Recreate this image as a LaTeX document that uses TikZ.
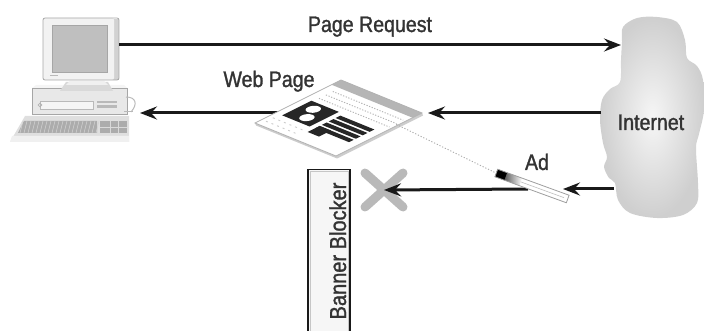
\documentclass[tikz,border=0pt]{standalone}
\usepackage{fontspec}
\setmainfont[FakeStretch=0.87,FakeBold=1.3]{Liberation Sans}
\usetikzlibrary{arrows.meta,calc}

\begin{document}
\begin{tikzpicture}[x=1pt,y=-1pt,
  lbl/.style={font=\fontsize{22.5}{26}\selectfont, text=black!80, inner sep=0pt},
  flow/.style={line width=3pt, draw=black!90,
    -{Stealth[length=17pt,width=13pt,inset=6pt]}},
  partline/.style={draw=gray!70, line width=0.8pt},
]
\useasboundingbox (0,0) rectangle (704,331);

% ---------- computer ----------
\begin{scope}
  % keyboard
  \fill[gray!25] (10,142) -- (25,116) -- (129,116) -- (129,142) -- cycle;
  \fill[gray!12] (10,142) -- (12,136) -- (129,136) -- (129,142) -- cycle;
  \fill[gray!65] (18,133) -- (24,121) -- (97,121) -- (97,133) -- cycle;
  \foreach \k in {20,24,...,96} \draw[gray!35, line width=0.6pt] (\k,133) -- (\k+3,121);
  \fill[gray!65] (100,121) rectangle (127,133);
  \draw[gray!30, line width=0.7pt] (100,127) -- (127,127) (110,121) -- (110,133) (118,121) -- (118,133);
  % system unit
  \fill[gray!18] (32,88) rectangle (127,114);
  \fill[gray!8] (36,85) -- (124,85) -- (127,88) -- (32,88) -- cycle;
  \draw[partline] (32,88) rectangle (127,114);
  \fill[gray!8] (40,101) rectangle (93,109);
  \draw[gray!55, line width=0.7pt] (40,101) rectangle (93,109);
  \draw[gray!60, line width=0.7pt] (40,105) circle [radius=1.8];
  \fill[gray!55] (97,101) rectangle (117,103.5);
  \fill[gray!55] (97,105.5) rectangle (117,108);
  \draw[gray!55, line width=1pt] (126,97) .. controls (136,97) and (138,104) .. (131,112);
  \draw[gray!55, line width=1pt] (124,112) -- (133,112);
  % monitor stand
  \fill[gray!30] (60,91) -- (66,82) -- (108,82) -- (113,91) -- cycle;
  \fill[gray!12] (66,85) -- (70,81) -- (104,81) -- (108,85) -- cycle;
  % monitor
  \fill[gray!35] (112,19) rectangle (119,80);
  \fill[gray!10, rounded corners=2pt] (43,18) rectangle (114,80);
  \draw[partline, rounded corners=2pt] (43,18) rectangle (119,80);
  \fill[gray!50] (52,25) rectangle (107,72);
  \draw[gray!70, line width=0.8pt] (52,25) rectangle (107,72);
  \draw[gray!55, line width=0.6pt] (50,75) -- (58,75);
  \coordinate (pc-send) at (119,45);
  \coordinate (pc-recv) at (140,113);
\end{scope}

% ---------- Internet cloud ----------
\shade[inner color=gray!7, outer color=gray!38]
  plot[smooth cycle, tension=0.55] coordinates {
    (622,42) (623,27) (637,18) (657,17) (677,22) (685,40) (687,58)
    (697,66) (703,80) (704,110) (699,134) (696,148) (698,183)
    (697,203) (683,215) (657,218) (630,213) (618,200) (615,183)
    (609,178) (604,167) (607,157) (603,143) (600,120) (602,100)
    (610,89) (620,82) (621,60)};
\node[lbl] (internet) at (651,130) [anchor=base] {Internet};
\coordinate (net-in)   at (621,45);
\coordinate (net-page) at (601,113);
\coordinate (net-ad)   at (614,189);

% ---------- Banner Blocker ----------
\node (blocker) [draw=black!90, line width=1.4pt, fill=gray!7,
  minimum width=42pt, minimum height=175pt, anchor=north, inner sep=0pt]
  at (329,169) {};
\draw[gray!45, line width=0.8pt] ($(blocker.north west)+(2.6,2.6)$) -- ($(blocker.south west)+(2.6,0)$)
  ($(blocker.north west)+(2.6,2.6)$) -- ($(blocker.north east)+(-2.6,2.6)$) -- ($(blocker.south east)+(-2.6,0)$);
\node[lbl, font=\fontsize{23}{26}\selectfont, rotate=90, anchor=base] (blocker-text) at (346,251) {Banner Blocker};

% blocked mark
\coordinate (cross) at (384,190);
\draw[gray!55, line width=9pt, line cap=round]
  ($(cross)+(-19,-17)$) -- ($(cross)+(19,17)$)
  ($(cross)+(-19,17)$) -- ($(cross)+(19,-17)$);

% ---------- connectors ----------
\node[lbl, anchor=base] (req-label) at (370,32) {Page Request};
\draw[flow] (pc-send) -- (net-in);

\coordinate (page-out) at (300,113);
\coordinate (page-in)  at (428,113);
\draw[flow] (page-out) -- (pc-recv);
\draw[flow] (net-page) -- (page-in);

\coordinate (ad-out) at (528,189);
\coordinate (ad-in)  at (563,189);
\draw[flow] (ad-out) -- (cross);
\draw[flow] (net-ad) -- (ad-in);

% ---------- web page ----------
\node[lbl, anchor=base] (page-label) at (269,87) {Web Page};
\begin{scope}[shift={(341,80)}, x={(81pt,-33pt)}, y={(-86pt,-43pt)}]
  \coordinate (page) at (0,0);
  % sheet thickness
  \fill[gray!40] (0,1) -- (1,1) -- (1,0) -- ([shift={(1pt,-2.5pt)}]1,0) -- ([shift={(1pt,-2.5pt)}]1,1) -- ([shift={(1pt,-2.5pt)}]0,1) -- cycle;
  \fill[white] (0,0) -- (1,0) -- (1,1) -- (0,1) -- cycle;
  \fill[gray!58] (0,0) -- (1,0) -- (1,0.11) -- (0,0.11) -- cycle;
  \foreach \t in {0.19,0.27,0.35}
    \draw[gray!60, dash pattern=on 1.2pt off 1.6pt, line width=0.9pt] (0.1,\t) -- (0.97,\t);
  \fill[black!85] (0.08,0.42) -- (0.42,0.42) -- (0.42,0.76) -- (0.08,0.76) -- cycle;
  \fill[white] (0.21,0.52) circle [radius=0.065];
  \fill[white] (0.28,0.66) circle [radius=0.065];
  \foreach \t in {0.46,0.54,0.62,0.70}
    \fill[black!85] (0.48,\t) -- (0.9,\t) -- (0.9,\t+0.055) -- (0.48,\t+0.055) -- cycle;
  \fill[black!85] (0.48,0.70) -- (0.62,0.70) -- (0.62,0.84) -- (0.48,0.84) -- cycle;
  \foreach \t in {0.84,0.92}
    \draw[gray!40, dash pattern=on 2pt off 4pt, line width=0.9pt] (0.05,\t) -- (0.45,\t);
  \draw[gray!60, line width=0.8pt] (0,0) -- (1,0) -- (1,1) -- (0,1) -- cycle;
  \coordinate (page-link) at (0.98,0.28);
\end{scope}

% ---------- ad ----------
\coordinate (ad) at (532,186);
\draw[gray!65, dash pattern=on 1.2pt off 1.8pt, line width=0.9pt] (page-link) -- ($(ad)+(-34,-12)$);
\node[lbl, anchor=base] (ad-label) at (537,170) {Ad};
\begin{scope}[shift={(ad)}, rotate=-20]
  \fill[white] (-38,-4) rectangle (38,4);
  \shade[left color=black, right color=white] (-38,-4) rectangle (-12,4);
  \fill[black] (-38,-4) rectangle (-28,4);
  \draw[gray!50, line width=0.6pt] (-12,0) -- (34,0);
  \draw[gray!75, line width=0.8pt] (-38,-4) rectangle (38,4);
\end{scope}

\end{tikzpicture}
\end{document}
